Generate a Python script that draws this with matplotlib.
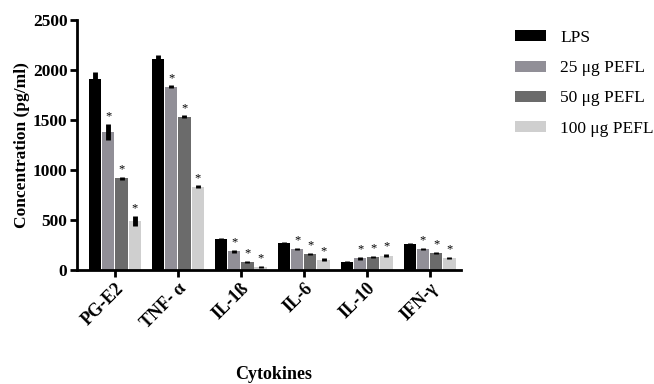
import numpy as np
import matplotlib.pyplot as plt

plt.rcParams['font.family'] = ['Liberation Serif', 'DejaVu Serif']

# data
cytokines = ['PG-E2', 'TNF- α', 'IL-1ß', 'IL-6', 'IL-10', 'IFN-γ']
groups = ['LPS', '25 μg PEFL', '50 μg PEFL', '100 μg PEFL']
lps = [1910, 2110, 310, 266, 78, 260]
pefl25 = [1380, 1830, 186, 210, 116, 210]
pefl50 = [915, 1530, 78, 160, 132, 170]
pefl100 = [490, 830, 30, 103, 143, 122]
err_lps = [70, 40, 10, 10, 8, 12]
err_25 = [80, 15, 12, 12, 12, 12]
err_50 = [15, 15, 10, 12, 12, 12]
err_100 = [50, 15, 10, 12, 15, 12]
signif = [False, True, True, True]

colors = ['#000000', '#918f97', '#6b6b6b', '#cfcfcf']
values = [lps, pefl25, pefl50, pefl100]
errors = [err_lps, err_25, err_50, err_100]

fig = plt.figure(figsize=(6.54, 3.84), dpi=100)
ax = fig.add_axes([0.118, 0.297, 0.587, 0.651])

x = np.arange(len(cytokines))
w = 0.21
for i in range(4):
    pos = x + (i - 1.5) * w
    ax.bar(pos, values[i], width=w - 0.015, color=colors[i], label=groups[i], zorder=2)
    ax.errorbar(pos, values[i], yerr=errors[i], fmt='none', ecolor='black',
                elinewidth=3.5, capsize=0, zorder=3)
    if signif[i]:
        for p, v, e in zip(pos, values[i], errors[i]):
            ax.text(p, v + e + 15, '*', ha='center', va='bottom', fontsize=9)

ax.set_xlim(-0.6, 5.5)
ax.set_ylim(0, 2500)
ax.set_yticks([0, 500, 1000, 1500, 2000, 2500])
ax.set_xticks(x)
ax.set_xticklabels(cytokines, rotation=45, ha='right', rotation_mode='anchor',
                   fontweight='bold', fontsize=13)
for lab in ax.get_yticklabels():
    lab.set_fontweight('bold')
    lab.set_fontsize(12.5)

for s in ['top', 'right']:
    ax.spines[s].set_visible(False)
for s in ['left', 'bottom']:
    ax.spines[s].set_linewidth(2)
ax.tick_params(width=2, length=5, pad=2)

ax.set_ylabel('Concentration (pg/ml)', fontweight='bold', fontsize=12.5, labelpad=2)
fig.text(0.418, 0.012, 'Cytokines', fontweight='bold', fontsize=13, ha='center')

fig.legend(loc='upper left', bbox_to_anchor=(0.788, 0.922), frameon=False,
           fontsize=12.5, handlelength=1.75, handleheight=0.6, labelspacing=0.82,
           handletextpad=0.85, borderaxespad=0, borderpad=0)

fig.savefig('out.png', dpi=100)
